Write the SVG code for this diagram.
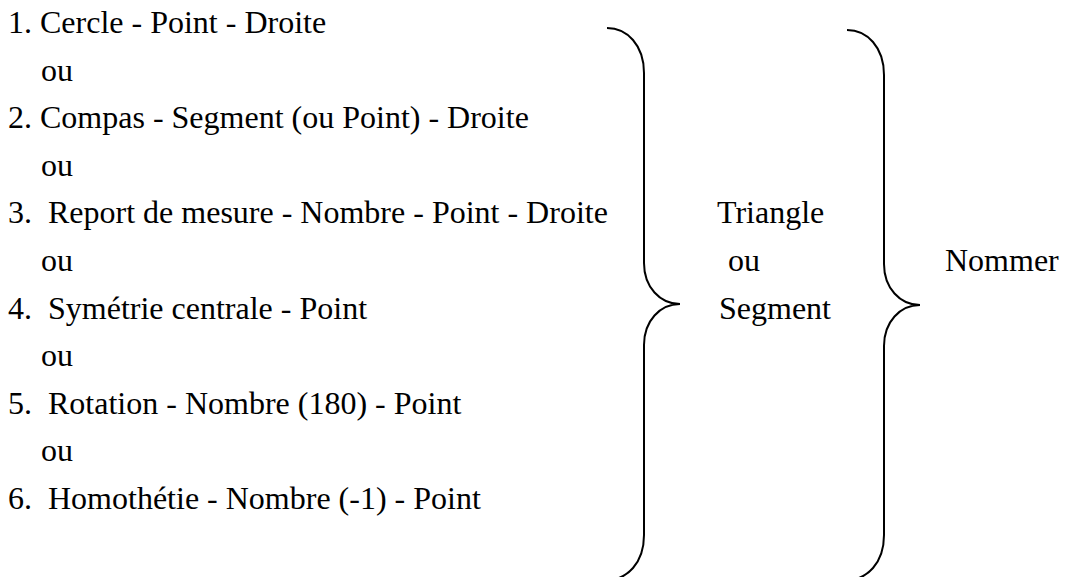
<svg xmlns="http://www.w3.org/2000/svg" width="1066" height="577" viewBox="0 0 1066 577">
<style>
.t{font-size:32px;fill:#000}
.brace{fill:none;stroke:#000;stroke-width:2}
</style>
<rect width="1066" height="577" fill="#fff"/>
<g id="list" class="t" font-family="'Liberation Serif', 'DejaVu Serif', serif">
<text x="8" y="33">1. Cercle - Point - Droite</text>
<text x="41" y="80.6">ou</text>
<text x="8" y="128.2">2. Compas - Segment (ou Point) - Droite</text>
<text x="41" y="175.8">ou</text>
<text x="8" y="223.4">3.<tspan x="48">Report de mesure - Nombre - Point - Droite</tspan></text>
<text x="41" y="271">ou</text>
<text x="8" y="318.6">4.<tspan x="48">Symétrie centrale - Point</tspan></text>
<text x="41" y="366.2">ou</text>
<text x="8" y="413.8">5.<tspan x="48">Rotation - Nombre (180) - Point</tspan></text>
<text x="41" y="461.4">ou</text>
<text x="8" y="509">6.<tspan x="48">Homothétie - Nombre (-1) - Point</tspan></text>
</g>
<g id="middle" class="t" font-family="'Liberation Serif', 'DejaVu Serif', serif">
<text x="717" y="223.4">Triangle</text>
<text x="728" y="271">ou</text>
<text x="719" y="318.6">Segment</text>
</g>
<g id="result" class="t" font-family="'Liberation Serif', 'DejaVu Serif', serif">
<text x="945" y="271">Nommer</text>
</g>
<g id="connectors">
<path class="brace" d="M607,28 C627,28 644,45 644,73 L644,263 C644,287 660,304 680,304 C660,304 644,321 644,345 L644,535 C644,563 627,580 607,580"/>
<path class="brace" d="M847,30 C867,30 884,47 884,75 L884,264 C884,288 900,305 920,305 C900,305 884,322 884,346 L884,535 C884,563 867,580 847,580"/>
</g>
</svg>
